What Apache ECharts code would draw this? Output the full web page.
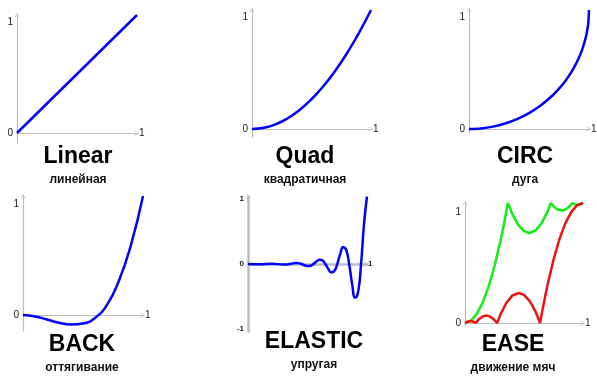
<!DOCTYPE html>
<html>
<head>
<meta charset="utf-8">
<script src="https://cdn.jsdelivr.net/npm/echarts@6/dist/echarts.min.js"></script>
<style>html,body{margin:0;padding:0;background:#fff}#c{width:597px;height:377px}</style>
</head>
<body>
<div id="c"></div>
<script>
// ---- data ----
const titles = ['Linear', 'Quad', 'CIRC', 'BACK', 'ELASTIC', 'EASE'];
const subtitles = ['линейная', 'квадратичная', 'дуга', 'оттягивание', 'упругая', 'движение мяч'];
const tickLabels = ['0', '1'];
const elasticTickLabels = ['-1', '0', '1'];
const xEndLabel = '1';

const linearT = [0, 1];
const linearV = [0, 1];

const quadT = [0, 0.1, 0.2, 0.3, 0.4, 0.5, 0.6, 0.7, 0.8, 0.9, 1];
const quadV = [0, 0.01, 0.04, 0.09, 0.16, 0.25, 0.36, 0.49, 0.64, 0.81, 1];

const circT = [0, 0.1, 0.2, 0.3, 0.4, 0.5, 0.6, 0.7, 0.75, 0.8, 0.85, 0.9, 0.93, 0.95, 0.97, 0.98, 0.99, 0.995, 1];
const circV = [0, 0.005, 0.020, 0.046, 0.083, 0.134, 0.2, 0.286, 0.339, 0.4, 0.473, 0.564, 0.632, 0.688, 0.757, 0.801, 0.859, 0.900, 1];

const backT = [0, 0.1, 0.2, 0.3, 0.4, 0.5, 0.6, 0.7, 0.8, 0.9, 1];
const backV = [0, -0.012, -0.038, -0.065, -0.08, -0.072, -0.025, 0.085, 0.29, 0.59, 1];

const elasticT = [0, 0.1, 0.2, 0.3, 0.325, 0.35, 0.375, 0.4, 0.425, 0.45, 0.475, 0.5, 0.525, 0.55, 0.575, 0.6, 0.625, 0.65, 0.675, 0.7, 0.725, 0.75, 0.775, 0.8, 0.825, 0.85, 0.875, 0.9, 0.925, 0.95, 0.975, 1];
const elasticV = [0.001, -0.002, 0.004, -0.008, -0.007, 0, 0.009, 0.016, 0.013, 0, -0.019, -0.031, -0.026, 0, 0.037, 0.063, 0.053, 0, -0.074, -0.125, -0.105, 0, 0.149, 0.25, 0.210, 0, -0.297, -0.5, -0.420, 0, 0.595, 1];

const bounceOutT = [0, 0.05, 0.1, 0.15, 0.2, 0.25, 0.3, 0.33, 0.3636, 0.4, 0.45, 0.5, 0.5455, 0.6, 0.65, 0.7, 0.7273, 0.75, 0.77, 0.79, 0.8182, 0.84, 0.86, 0.88, 0.9091, 0.93, 0.9545, 0.98, 1];
const bounceOutV = [0, 0.019, 0.076, 0.170, 0.303, 0.473, 0.681, 0.824, 1, 0.910, 0.819, 0.766, 0.75, 0.773, 0.833, 0.930, 1, 0.973, 0.955, 0.944, 0.9375, 0.941, 0.951, 0.966, 1, 0.989, 0.984, 0.989, 1];

const bounceInT = [0, 0.02, 0.0455, 0.07, 0.0909, 0.12, 0.15, 0.1818, 0.21, 0.24, 0.2727, 0.3, 0.35, 0.4, 0.4545, 0.5, 0.55, 0.6, 0.6364, 0.65, 0.68, 0.7, 0.75, 0.8, 0.85, 0.9, 0.95, 1];
const bounceInV = [0, 0.011, 0.016, 0.011, 0, 0.034, 0.055, 0.0625, 0.055, 0.034, 0, 0.070, 0.167, 0.228, 0.25, 0.234, 0.181, 0.090, 0, 0.074, 0.226, 0.319, 0.527, 0.698, 0.830, 0.924, 0.981, 1];

// ---- layout ----
const zip = (a, b) => a.map((v, i) => [v, b[i]]);
const FONT = 'Liberation Sans, Arial, sans-serif';
const ARROW = 'path://M0,10 L5,0 L10,10 L8.6,10 L5,2.8 L1.4,10 Z';

const panels = [
  {ox: 17, oy: 133, w: 120, uy: 118, ymin: -0.085, ymax: 1, ticks: tickLabels, top: 14, bot: 0, fs: 10, bold: 'normal', gap: 2, lw: 1.2,
   series: [{d: zip(linearT, linearV), c: '#0000ff', smooth: false}]},
  {ox: 252, oy: 129, w: 119, uy: 119, ymin: -0.067, ymax: 1, ticks: tickLabels, top: 14, bot: 0, fs: 10, bold: 'normal', gap: 2, lw: 1.2,
   series: [{d: zip(quadT, quadV), c: '#0000ff', smooth: true}]},
  {ox: 469, oy: 129, w: 120, uy: 119, ymin: -0.035, ymax: 1, ticks: tickLabels, top: 14, bot: 0, fs: 10, bold: 'normal', gap: 2, lw: 1.2,
   series: [{d: zip(circT, circV), c: '#0000ff', smooth: 0.3}]},
  {ox: 23, oy: 315, w: 120, uy: 119, ymin: -0.134, ymax: 1, ticks: tickLabels, top: 16, bot: 0, fs: 10, bold: 'normal', gap: 2, lw: 1.2,
   series: [{d: zip(backT, backV), c: '#0000ff', smooth: true}]},
  {ox: 248, oy: 264, w: 119, uy: 67.5, ymin: -1, ymax: 1, ticks: elasticTickLabels, top: 4, bot: 6, fs: 8, bold: 'bold', gap: 1, lw: 2.5,
   series: [{d: zip(elasticT, elasticV), c: '#0000ff', smooth: true}]},
  {ox: 465, oy: 323, w: 118, uy: 120, ymin: -0.025, ymax: 1, ticks: tickLabels, top: 18, bot: 0, fs: 10, bold: 'normal', gap: 2, lw: 1.2,
   series: [{d: zip(bounceOutT, bounceOutV), c: '#11ee11', smooth: false},
            {d: zip(bounceInT, bounceInV), c: '#ee1111', smooth: false}]}
];
const titlePos = [[78, 145], [305, 145], [525, 145], [82, 333], [314, 330], [513, 333]];

const grid = [], xAxis = [], yAxis = [], series = [], title = [];
panels.forEach((p, i) => {
  grid.push({left: p.ox, top: p.oy - p.ymax * p.uy, width: p.w, height: (p.ymax - p.ymin) * p.uy,
             containLabel: false, outerBoundsMode: 'none'});
  const line = {color: '#bdbdbd', width: p.lw};
  xAxis.push({gridIndex: i, type: 'value', min: 0, max: 1,
    axisLine: {onZero: true, symbol: ['none', ARROW], symbolSize: [7, 5], lineStyle: line},
    axisTick: {show: false}, axisLabel: {show: false}, splitLine: {show: false},
    name: xEndLabel, nameLocation: 'end', nameGap: p.gap,
    nameTextStyle: {fontFamily: FONT, fontSize: p.fs, fontWeight: p.bold, color: '#222', verticalAlign: 'middle', align: 'left'}});
  yAxis.push({gridIndex: i, type: 'value', min: p.ymin, max: p.ymax,
    axisLine: {onZero: false, symbol: ['none', ARROW], symbolSize: [7, 5], lineStyle: line},
    axisTick: {show: false}, splitLine: {show: false},
    axisLabel: {customValues: p.ticks.map(Number), margin: 4, fontFamily: FONT, fontSize: p.fs, fontWeight: p.bold, color: '#222',
      formatter: v => v === 1 ? '{t|' + v + '}' : (v === -1 ? '{b|' + v + '}' : '{m|' + v + '}'),
      rich: {
        t: {padding: [p.top, 0, 0, 0], fontFamily: FONT, fontSize: p.fs, fontWeight: p.bold, color: '#222'},
        b: {padding: [0, 0, p.bot, 0], fontFamily: FONT, fontSize: p.fs, fontWeight: p.bold, color: '#222'},
        m: {fontFamily: FONT, fontSize: p.fs, fontWeight: p.bold, color: '#222'}
      }}});
  p.series.forEach(s => series.push({type: 'line', xAxisIndex: i, yAxisIndex: i, data: s.d, smooth: s.smooth,
    showSymbol: false, symbol: 'none', lineStyle: {color: s.c, width: 2.5}, itemStyle: {color: s.c}, animation: false, silent: true}));
  title.push({text: titles[i], subtext: subtitles[i], left: titlePos[i][0], top: titlePos[i][1], textAlign: 'center', padding: 0, itemGap: 6,
    textStyle: {fontFamily: FONT, fontSize: 23, fontWeight: 'bold', color: '#000'},
    subtextStyle: {fontFamily: FONT, fontSize: 12, fontWeight: 'bold', color: '#111'}});
});

const chart = echarts.init(document.getElementById('c'), null, {renderer: 'canvas'});
chart.setOption({animation: false, backgroundColor: '#fff', title, grid, xAxis, yAxis, series});
</script>
</body>
</html>
